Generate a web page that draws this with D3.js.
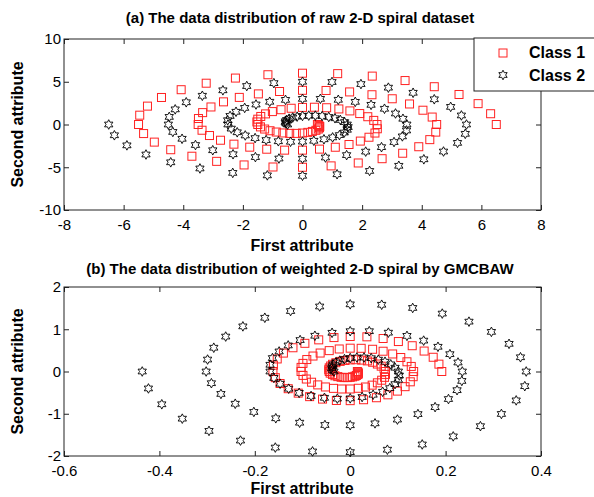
<!DOCTYPE html>
<html>
<head>
<meta charset="utf-8">
<script src="https://cdn.jsdelivr.net/npm/d3@7"></script>
<style>
  body { margin: 0; background: #fff; }
  text { font-family: "Liberation Sans", Arial, sans-serif; fill: #000; }
</style>
</head>
<body>
<div id="chart-area"></div>
<script>
// raw 2-D spiral, class 1 (red squares)
const c1x = [6.5,6.31,5.89,5.25,4.42,3.44,2.34,1.18,0,-1.16,-2.25,-3.23,-4.07,-4.73,-5.2,-5.46,
  -5.5,-5.33,-4.97,-4.42,-3.71,-2.88,-1.96,-0.99,0,0.96,1.87,2.67,3.36,3.9,4.27,4.47,
  4.5,4.35,4.04,3.59,3.01,2.33,1.58,0.79,0,-0.77,-1.48,-2.12,-2.65,-3.07,-3.35,-3.49,
  -3.5,-3.37,-3.12,-2.75,-2.3,-1.77,-1.2,-0.6,0,0.57,1.1,1.56,1.94,2.23,2.43,2.51,
  2.5,2.39,2.19,1.92,1.59,1.22,0.81,0.4,0,-0.38,-0.72,-1.01,-1.24,-1.4,-1.5,-1.53,
  -1.5,-1.41,-1.27,-1.09,-0.88,-0.66,-0.43,-0.21,0,0.18,0.33,0.45,0.53,0.57,0.58,0.55,0.5]
const c1y = [0,1.26,2.44,3.51,4.42,5.14,5.66,5.95,6,5.82,5.43,4.83,4.07,3.16,2.15,1.09,
  0,-1.06,-2.06,-2.95,-3.71,-4.31,-4.73,-4.97,-5,-4.84,-4.5,-4,-3.36,-2.6,-1.77,-0.89,
  0,0.87,1.67,2.4,3.01,3.48,3.81,3.98,4,3.86,3.58,3.17,2.65,2.05,1.39,0.7,
  0,-0.67,-1.29,-1.84,-2.3,-2.65,-2.89,-3,-3,-2.88,-2.66,-2.34,-1.94,-1.49,-1,-0.5,
  0,0.48,0.91,1.28,1.59,1.82,1.96,2.02,2,1.9,1.73,1.51,1.24,0.94,0.62,0.3,
  0,-0.28,-0.53,-0.73,-0.88,-0.99,-1.04,-1.04,-1,-0.92,-0.81,-0.68,-0.53,-0.38,-0.24,-0.11,0]

// raw 2-D spiral, class 2 (black stars)
const c2x = [-6.5,-6.31,-5.89,-5.25,-4.42,-3.44,-2.34,-1.18,0,1.16,2.25,3.23,4.07,4.73,5.2,5.46,
  5.5,5.33,4.97,4.42,3.71,2.88,1.96,0.99,0,-0.96,-1.87,-2.67,-3.36,-3.9,-4.27,-4.47,
  -4.5,-4.35,-4.04,-3.59,-3.01,-2.33,-1.58,-0.79,0,0.77,1.48,2.12,2.65,3.07,3.35,3.49,
  3.5,3.37,3.12,2.75,2.3,1.77,1.2,0.6,0,-0.57,-1.1,-1.56,-1.94,-2.23,-2.43,-2.51,
  -2.5,-2.39,-2.19,-1.92,-1.59,-1.22,-0.81,-0.4,0,0.38,0.72,1.01,1.24,1.4,1.5,1.53,
  1.5,1.41,1.27,1.09,0.88,0.66,0.43,0.21,0,-0.18,-0.33,-0.45,-0.53,-0.57,-0.58,-0.55,-0.5]
const c2y = [0,-1.26,-2.44,-3.51,-4.42,-5.14,-5.66,-5.95,-6,-5.82,-5.43,-4.83,-4.07,-3.16,-2.15,-1.09,
  0,1.06,2.06,2.95,3.71,4.31,4.73,4.97,5,4.84,4.5,4,3.36,2.6,1.77,0.89,
  0,-0.87,-1.67,-2.4,-3.01,-3.48,-3.81,-3.98,-4,-3.86,-3.58,-3.17,-2.65,-2.05,-1.39,-0.7,
  0,0.67,1.29,1.84,2.3,2.65,2.89,3,3,2.88,2.66,2.34,1.94,1.49,1,0.5,
  0,-0.48,-0.91,-1.28,-1.59,-1.82,-1.96,-2.02,-2,-1.9,-1.73,-1.51,-1.24,-0.94,-0.62,-0.3,
  0,0.28,0.53,0.73,0.88,0.99,1.04,1.04,1,0.92,0.81,0.68,0.53,0.38,0.24,0.11,0]

// weighted spiral (GMCBAW), class 1
const w1x = [.192,.186,.174,.155,.130,.101,.069,.035,0,-.034,-.066,-.095,-.120,-.140,-.153,-.161,
  -.162,-.157,-.147,-.130,-.109,-.085,-.058,-.029,0,.028,.055,.079,.099,.115,.126,.132,
  .133,.128,.119,.106,.089,.069,.047,.023,0,-.023,-.044,-.063,-.078,-.091,-.099,-.103,
  -.103,-.099,-.092,-.081,-.068,-.052,-.035,-.018,0,.017,.032,.046,.057,.066,.072,.074,
  .074,.071,.065,.057,.047,.036,.024,.012,0,-.011,-.021,-.030,-.037,-.041,-.044,-.045,
  -.044,-.042,-.037,-.032,-.026,-.019,-.013,-.006,0,.005,.010,.013,.016,.017,.017,.016,.015]
const w1y = [0,.174,.337,.484,.610,.709,.781,.821,.828,.803,.749,.667,.562,.436,.297,.150,
  0,-.146,-.284,-.407,-.512,-.595,-.653,-.686,-.690,-.668,-.621,-.552,-.464,-.359,-.244,-.123,
  0,.120,.230,.331,.415,.480,.526,.549,.552,.533,.494,.437,.366,.283,.192,.097,
  0,-.092,-.178,-.254,-.317,-.366,-.399,-.414,-.414,-.397,-.367,-.323,-.268,-.206,-.138,-.069,
  0,.066,.126,.177,.219,.251,.270,.279,.276,.262,.239,.208,.171,.130,.086,.041,
  0,-.039,-.073,-.101,-.121,-.137,-.144,-.144,-.138,-.127,-.112,-.094,-.073,-.052,-.033,-.015,0]

// weighted spiral (GMCBAW), class 2
const w2x = [-.436,-.423,-.395,-.352,-.296,-.230,-.157,-.079,0,.078,.151,.216,.273,.317,.348,.366,
  .369,.357,.333,.296,.249,.193,.131,.066,0,-.064,-.125,-.179,-.225,-.261,-.286,-.299,
  -.302,-.291,-.271,-.241,-.202,-.156,-.106,-.053,0,.052,.099,.142,.178,.206,.224,.234,
  .235,.226,.209,.184,.154,.119,.080,.040,0,-.038,-.074,-.105,-.130,-.149,-.163,-.168,
  -.168,-.160,-.147,-.129,-.107,-.082,-.054,-.027,0,.025,.048,.068,.083,.094,.101,.103,
  .101,.094,.085,.073,.059,.044,.029,.014,0,-.012,-.022,-.030,-.036,-.038,-.039,-.037,-.034]
const w2y = [0,-.401,-.776,-1.116,-1.406,-1.635,-1.800,-1.892,-1.908,-1.851,-1.727,-1.536,-1.294,-1.005,-.684,-.347,
  0,.337,.655,.938,1.180,1.371,1.504,1.580,1.590,1.539,1.431,1.272,1.068,.827,.563,.283,
  0,-.277,-.531,-.763,-.957,-1.107,-1.212,-1.266,-1.272,-1.227,-1.138,-1.008,-.843,-.652,-.442,-.223,
  0,.213,.410,.585,.731,.843,.919,.954,.954,.916,.846,.744,.617,.474,.318,.159,
  0,-.153,-.289,-.407,-.506,-.579,-.623,-.642,-.636,-.604,-.550,-.480,-.394,-.299,-.197,-.095,
  0,.089,.169,.232,.280,.315,.331,.331,.318,.293,.258,.216,.169,.121,.076,.035,0]

const xTicksA = [-8,-6,-4,-2,0,2,4,6,8]
const yTicksA = [-10,-5,0,5,10]
const xTicksB = [-0.6,-0.4,-0.2,0,0.2,0.4]
const yTicksB = [-2,-1,0,1,2]
const classNames = ["Class 1", "Class 2"]

const W = 594, H = 497
const LEFT = 64, RIGHT = 541

const svg = d3.select("#chart-area").append("svg")
  .attr("width", W)
  .attr("height", H)

// six pointed star like matlab 'h' marker
function hexagram(r) {
  const pts = []
  for (let k = 0; k < 12; k++) {
    const a = -Math.PI / 2 + k * Math.PI / 6
    const rr = k % 2 === 0 ? r : r * 0.55
    pts.push([rr * Math.cos(a), rr * Math.sin(a)])
  }
  return "M" + pts.map(p => p[0].toFixed(2) + "," + p[1].toFixed(2)).join("L") + "Z"
}
const STAR = hexagram(4.8)
const SQ = 4

function panel(opts) {
  const x = d3.scaleLinear().domain(opts.xDomain).range([LEFT, RIGHT])
  const y = d3.scaleLinear().domain(opts.yDomain).range([opts.bottom, opts.top])
  const g = svg.append("g")

  g.append("rect")
    .attr("x", LEFT).attr("y", opts.top)
    .attr("width", RIGHT - LEFT).attr("height", opts.bottom - opts.top)
    .attr("fill", "#fff")

  const fmt = d => String(d)
  const styleAxis = sel => {
    sel.select(".domain").remove()
    sel.selectAll("line").attr("stroke", "#222")
    sel.selectAll("text").attr("font-size", "15px").style("font-family", '"Liberation Sans", Arial, sans-serif')
  }

  g.append("g").attr("transform", `translate(0,${opts.bottom})`)
    .call(d3.axisBottom(x).tickValues(opts.xTicks).tickSize(-5).tickPadding(9).tickFormat(fmt))
    .call(styleAxis)
  g.append("g").attr("transform", `translate(0,${opts.top})`)
    .call(d3.axisTop(x).tickValues(opts.xTicks).tickSize(-5).tickFormat(""))
    .call(styleAxis)
  g.append("g").attr("transform", `translate(${LEFT},0)`)
    .call(d3.axisLeft(y).tickValues(opts.yTicks).tickSize(-5).tickPadding(3).tickFormat(fmt))
    .call(styleAxis)
  g.append("g").attr("transform", `translate(${RIGHT},0)`)
    .call(d3.axisRight(y).tickValues(opts.yTicks).tickSize(-5).tickFormat(""))
    .call(styleAxis)

  g.append("rect")
    .attr("x", LEFT).attr("y", opts.top)
    .attr("width", RIGHT - LEFT).attr("height", opts.bottom - opts.top)
    .attr("fill", "none").attr("stroke", "#222").attr("stroke-width", 1)

  const d1 = opts.ax.map((v, i) => ({ x: v, y: opts.ay[i] }))
  const d2 = opts.bx.map((v, i) => ({ x: v, y: opts.by[i] }))

  g.append("g").selectAll("rect")
    .data(d1).join("rect")
    .attr("x", d => x(d.x) - SQ).attr("y", d => y(d.y) - SQ)
    .attr("width", SQ * 2).attr("height", SQ * 2)
    .attr("fill", "none").attr("stroke", "#f22").attr("stroke-width", 1)

  g.append("g").selectAll("path")
    .data(d2).join("path")
    .attr("transform", d => `translate(${x(d.x)},${y(d.y)})`)
    .attr("d", STAR)
    .attr("fill", "none").attr("stroke", "#000").attr("stroke-width", 0.9)

  g.append("text")
    .attr("x", 300).attr("y", opts.titleY)
    .attr("text-anchor", "middle")
    .attr("font-size", "15px").attr("font-weight", "bold")
    .text(opts.title)
  g.append("text")
    .attr("x", 302).attr("y", opts.xLabelY)
    .attr("text-anchor", "middle")
    .attr("font-size", "16px").attr("font-weight", "bold")
    .text("First attribute")
  g.append("text")
    .attr("transform", `translate(23,${(opts.top + opts.bottom) / 2}) rotate(-90)`)
    .attr("text-anchor", "middle")
    .attr("font-size", "16px").attr("font-weight", "bold")
    .text("Second attribute")
  return g
}

panel({
  xDomain: [-8, 8], yDomain: [-10, 10], top: 39, bottom: 210,
  xTicks: xTicksA, yTicks: yTicksA,
  ax: c1x, ay: c1y, bx: c2x, by: c2y,
  title: "(a) The data distribution of raw 2-D spiral dataset",
  titleY: 23, xLabelY: 251
})

panel({
  xDomain: [-0.6, 0.4], yDomain: [-2, 2], top: 287, bottom: 456,
  xTicks: xTicksB, yTicks: yTicksB,
  ax: w1x, ay: w1y, bx: w2x, by: w2y,
  title: "(b) The data distribution of weighted 2-D spiral by GMCBAW",
  titleY: 274, xLabelY: 494
})

// Legend
const legend = svg.append("g")
legend.append("rect")
  .attr("x", 474).attr("y", 38).attr("width", 130).attr("height", 53)
  .attr("fill", "#fff").attr("stroke", "#222")
legend.append("rect")
  .attr("x", 503 - SQ).attr("y", 53 - SQ).attr("width", SQ * 2).attr("height", SQ * 2)
  .attr("fill", "none").attr("stroke", "#f22")
legend.append("path")
  .attr("transform", "translate(503,75)").attr("d", STAR)
  .attr("fill", "none").attr("stroke", "#000").attr("stroke-width", 0.9)
legend.selectAll("text.lg")
  .data(classNames).join("text")
  .attr("class", "lg")
  .attr("x", 529).attr("y", (d, i) => 58 + i * 23)
  .attr("font-size", "16px").attr("font-weight", "bold")
  .text(d => d)
</script>
</body>
</html>
